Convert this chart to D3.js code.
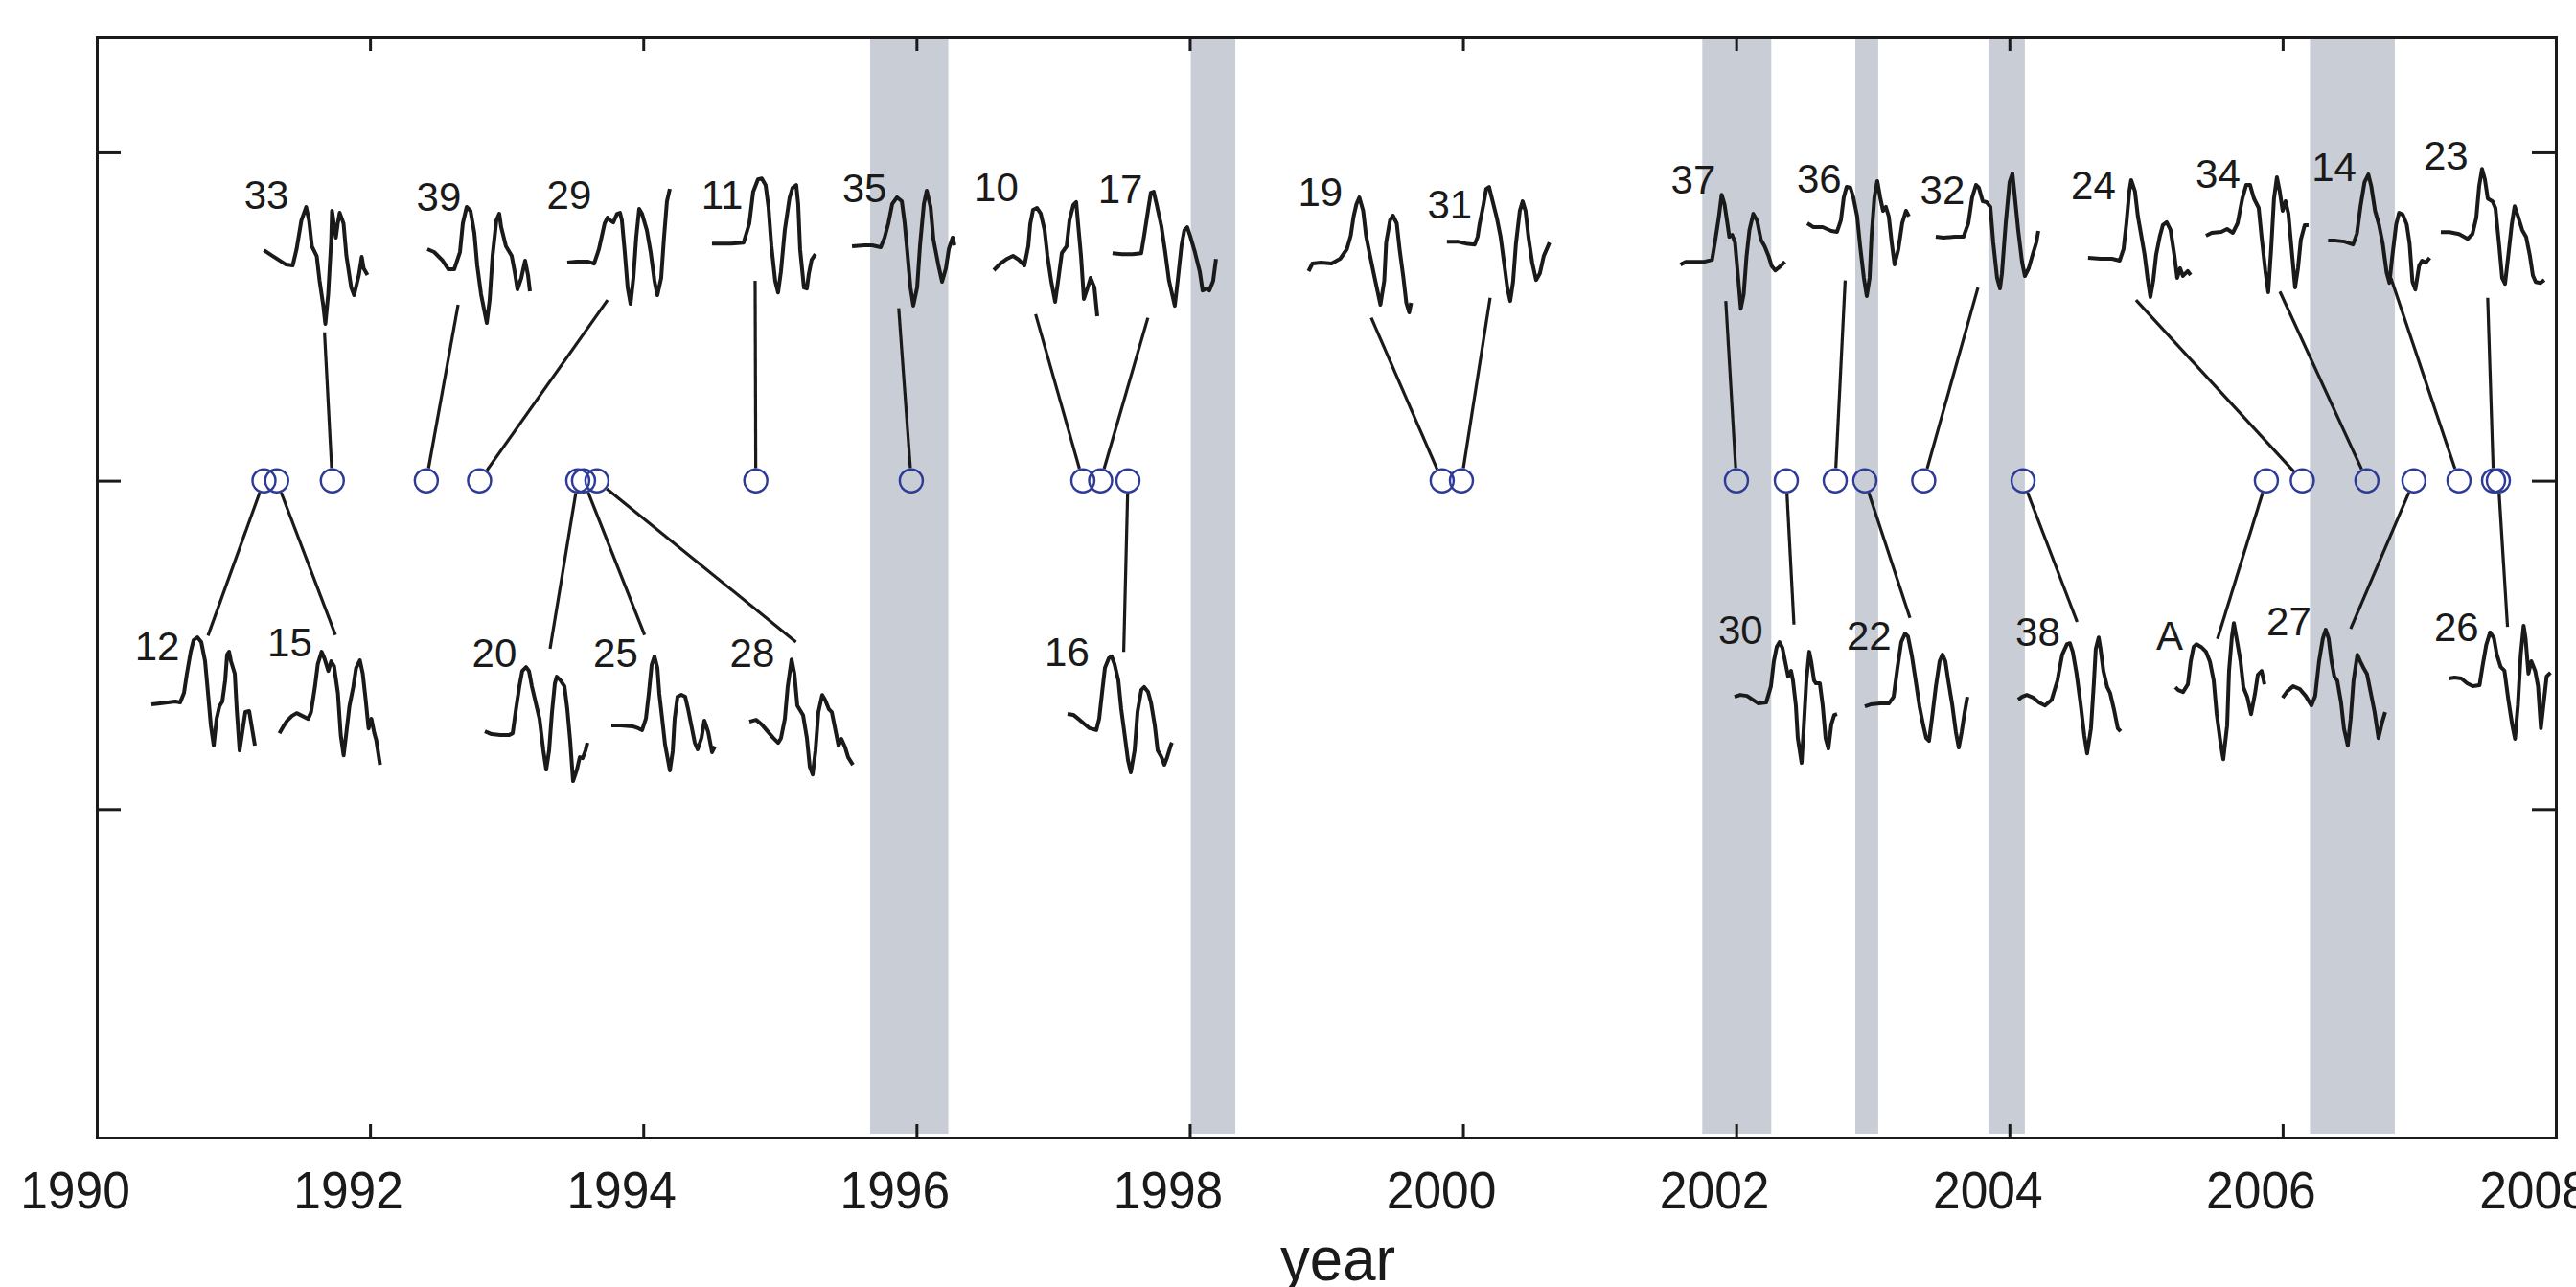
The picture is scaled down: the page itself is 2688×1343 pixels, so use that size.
<!DOCTYPE html>
<html>
<head>
<meta charset="utf-8">
<script src="https://cdn.jsdelivr.net/npm/d3@7"></script>
<style>
  body { margin: 0; background: #fff; }
  svg { display: block; }
  text { font-family: "Liberation Sans", Arial, Helvetica, sans-serif; fill: #1a1a1a; }
</style>
</head>
<body>
<script>

// tick values
var yearTicks = [1990, 1992, 1994, 1996, 1998, 2000, 2002, 2004, 2006, 2008];
var levelTicks = [-1, 0, 1];

// shaded periods (years)
var bandStart = [1995.661, 1998.008, 2001.752, 2002.872, 2003.847, 2006.200];
var bandEnd   = [1996.233, 1998.334, 2002.257, 2003.040, 2004.113, 2006.821];

// events, in time order
var eventId   = ["12","15","33","39","29","20","25","28","11","35","10","17","16","19",
                 "31","37","30","36","22","32","38","A","24","34","27","14","23","26"];
var eventYear = [1991.224,1991.317,1991.724,1992.412,1992.802,1993.521,1993.563,1993.661,
                 1994.824,1995.962,1997.218,1997.348,1997.548,1999.848,1999.989,2002.002,
                 2002.367,2002.725,2002.942,2003.373,2004.100,2005.881,2006.144,2006.617,
                 2006.961,2007.291,2007.544,2007.579];

// where each waveform starts (year, level)
var traceYear  = [1990.400,1991.337,1991.224,1992.420,1993.444,1992.841,1993.767,1994.777,
                  1994.503,1995.528,1996.566,1997.435,1997.106,1998.870,1999.883,2001.592,
                  2001.988,2002.521,2002.942,2003.461,2004.064,2005.215,2004.576,2005.439,
                  2006.000,2006.333,2007.158,2007.217];
var traceLevel = [-0.681,-0.769,0.702,0.705,0.664,-0.763,-0.745,-0.734,0.722,0.714,0.641,
                  0.693,-0.710,0.638,0.728,0.658,-0.658,0.784,-0.687,0.743,-0.667,-0.629,
                  0.679,0.746,-0.661,0.731,0.757,-0.602];

// label anchor (year, level)
var labelYear  = [1990.442,1991.413,1991.242,1992.504,1993.458,1992.911,1993.798,1994.798,
                  1994.577,1995.619,1996.583,1997.492,1997.102,1998.957,1999.904,2001.686,
                  2002.033,2002.608,2002.973,2003.510,2004.208,2005.173,2004.615,2005.527,
                  2006.046,2006.376,2007.195,2007.273];
var labelLevel = [-0.547,-0.535,0.827,0.821,0.827,-0.567,-0.567,-0.567,0.827,0.848,0.851,
                  0.845,-0.564,0.836,0.798,0.874,-0.497,0.877,-0.515,0.842,-0.503,-0.515,
                  0.857,0.892,-0.471,0.912,0.947,-0.488];

// far end of each leader line (year, level)
var leaderYear  = [1990.814,1991.747,1991.667,1992.645,1993.739,1993.318,1994.010,1995.118,
                   1994.819,1995.870,1996.872,1997.694,1997.517,1999.329,2000.199,2001.924,
                   2002.423,2002.798,2003.272,2003.770,2004.496,2005.523,2004.927,2005.980,
                   2006.498,2006.793,2007.501,2007.646];
var leaderLevel = [-0.472,-0.470,0.452,0.536,0.550,-0.512,-0.470,-0.491,0.609,0.525,0.507,
                   0.496,-0.521,0.496,0.557,0.547,-0.438,0.610,-0.418,0.588,-0.430,-0.482,
                   0.550,0.576,-0.451,0.617,0.557,-0.445];

// waveforms: [sample, counts]
var wf12 = [[0,0],[9,1],[17,2],[25,3],[30,2],[34,12],[37,32],[41,55],[44,67],[48,70],[52,65],[56,45],[59,12],[62,-22],[65,-43],[68,-15],[71,-2],[74,3],[77,25],[79,52],[81,55],[83,45],[87,32],[89,-5],[92,-48],[95,-28],[98,-8],[102,-7],[105,-25],[108,-43]];
var wf15 = [[0,0],[4,7],[8,13],[13,18],[18,21],[24,18],[30,15],[33,22],[37,48],[40,72],[44,85],[47,78],[51,65],[54,75],[57,70],[61,42],[64,-2],[67,-23],[70,2],[73,28],[77,48],[80,68],[84,76],[87,62],[90,35],[93,5],[96,15],[99,0],[101,-7],[105,-33]];
var wf33 = [[0,0],[9,-6],[23,-15],[30,-16],[34,1],[39,31],[44,45],[47,31],[50,4],[55,-6],[58,-32],[62,-59],[64,-77],[67,-46],[70,8],[71,41],[75,13],[77,28],[79,39],[83,28],[86,-6],[91,-39],[94,-47],[99,-26],[102,-7],[104,-19],[108,-26]];
var wf39 = [[0,0],[7,-3],[16,-12],[22,-21],[28,-21],[34,-3],[37,27],[41,44],[45,40],[49,17],[52,-17],[56,-47],[62,-77],[65,-53],[68,-7],[72,30],[75,37],[77,23],[82,3],[88,-7],[91,-23],[94,-42],[98,-30],[102,-12],[105,-27],[107,-44]];
var wf29 = [[0,0],[10,1],[22,1],[28,-1],[33,14],[39,41],[42,47],[45,44],[48,42],[52,51],[55,52],[57,44],[60,11],[63,-26],[66,-43],[69,-16],[72,27],[75,56],[78,51],[83,34],[87,11],[91,-19],[94,-34],[98,-16],[101,27],[104,64],[107,77]];
var wf20 = [[0,0],[7,-3],[16,-4],[25,-4],[29,-2],[32,20],[36,47],[39,63],[43,67],[46,63],[49,47],[53,30],[57,13],[61,-20],[64,-40],[67,-20],[70,20],[73,50],[75,57],[79,53],[83,47],[86,23],[89,-10],[92,-52],[96,-40],[99,-27],[102,-28],[105,-20],[107,-12]];
var wf25 = [[0,0],[10,0],[22,-1],[28,-3],[32,-5],[36,7],[39,33],[42,63],[45,72],[48,60],[50,33],[53,7],[56,-20],[61,-47],[64,-27],[66,7],[69,30],[73,32],[77,30],[80,17],[84,-3],[87,-18],[90,-25],[94,-13],[97,5],[101,-7],[105,-28],[108,-22]];
var wf28 = [[0,0],[7,2],[13,-3],[19,-10],[25,-17],[30,-22],[33,-17],[37,3],[40,37],[44,65],[47,50],[50,17],[56,7],[60,-17],[63,-47],[66,-55],[69,-30],[72,10],[76,28],[79,23],[83,13],[86,10],[90,-10],[93,-25],[96,-18],[100,-27],[103,-37],[108,-45]];
var wf11 = [[0,0],[20,0],[33,1],[39,21],[43,54],[48,67],[52,68],[56,61],[59,38],[62,-2],[66,-39],[69,-51],[72,-29],[76,14],[81,48],[84,58],[88,61],[90,41],[92,-6],[96,-46],[99,-47],[101,-32],[104,-17],[108,-11]];
var wf35 = [[0,0],[13,1],[21,1],[30,-1],[34,9],[38,24],[42,44],[47,51],[52,47],[55,24],[58,-9],[61,-43],[64,-62],[68,-43],[71,1],[75,44],[78,58],[82,41],[85,7],[90,-19],[94,-37],[98,-23],[101,-3],[105,9],[107,1]];
var wf10 = [[0,0],[7,7],[14,12],[20,15],[26,11],[32,5],[36,25],[38,48],[41,63],[45,65],[49,59],[53,42],[56,15],[60,-12],[64,-33],[67,-12],[71,18],[76,25],[79,52],[83,68],[86,71],[88,48],[91,15],[94,-30],[98,-18],[101,-8],[105,-18],[108,-48]];
var wf17 = [[0,0],[10,-1],[21,-1],[30,0],[33,18],[37,44],[40,63],[43,64],[46,51],[51,28],[55,1],[59,-29],[65,-55],[68,-29],[72,8],[75,24],[78,27],[81,18],[86,1],[91,-19],[94,-39],[98,-37],[101,-39],[105,-29],[108,-6]];
var wf16 = [[0,0],[6,-1],[11,-5],[17,-10],[23,-15],[30,-17],[33,-5],[36,22],[39,48],[43,58],[46,60],[49,52],[53,35],[56,5],[60,-25],[63,-48],[66,-61],[70,-38],[73,2],[77,25],[80,28],[84,23],[87,12],[91,-12],[94,-38],[98,-45],[101,-53],[104,-45],[108,-32],[109,-30]];
var wf19 = [[0,0],[4,8],[13,9],[24,8],[33,13],[40,23],[44,37],[47,57],[50,70],[53,77],[57,63],[60,37],[64,17],[69,-7],[75,-35],[79,-10],[81,30],[85,53],[88,58],[92,50],[95,23],[99,-7],[102,-33],[105,-43],[107,-33]];
var wf31 = [[0,0],[11,0],[20,-2],[29,-3],[32,5],[34,18],[38,38],[41,55],[44,57],[47,45],[52,25],[56,5],[60,-25],[63,-48],[66,-62],[69,-42],[72,-2],[76,32],[79,42],[82,32],[85,5],[89,-22],[93,-40],[97,-33],[101,-15],[107,-1]];
var wf37 = [[0,0],[6,3],[16,3],[25,3],[33,5],[36,23],[40,49],[43,73],[46,63],[49,43],[51,29],[54,31],[57,23],[60,-11],[63,-46],[66,-31],[69,9],[72,36],[76,53],[80,46],[84,26],[88,19],[92,9],[95,-1],[99,-6],[104,-2],[109,3]];
var wf30 = [[0,0],[6,2],[13,1],[19,-3],[25,-7],[33,-6],[38,11],[41,37],[44,52],[47,57],[50,51],[54,31],[56,21],[59,27],[61,17],[64,-9],[66,-43],[70,-69],[72,-36],[75,17],[78,47],[80,37],[83,17],[85,14],[89,14],[92,-9],[95,-43],[98,-54],[101,-29],[104,-19],[107,-18]];
var wf36 = [[0,0],[6,-4],[16,-4],[25,-8],[31,-9],[35,3],[38,27],[41,38],[45,37],[48,27],[52,7],[55,-23],[59,-57],[62,-76],[65,-57],[67,-13],[70,27],[73,44],[76,27],[79,13],[82,17],[85,7],[88,-20],[91,-43],[95,-27],[99,0],[103,13],[106,7]];
var wf22 = [[0,0],[6,2],[16,3],[25,3],[30,10],[34,40],[38,67],[42,76],[45,73],[49,53],[53,27],[57,0],[61,-20],[64,-33],[67,-36],[70,-13],[74,20],[78,47],[81,54],[84,47],[87,27],[91,3],[95,-27],[98,-43],[101,-27],[104,-7],[107,10]];
var wf32 = [[0,0],[8,-1],[20,0],[29,0],[34,14],[38,41],[42,54],[45,51],[49,37],[53,36],[57,31],[60,-6],[64,-43],[67,-54],[69,-39],[73,14],[77,57],[80,66],[82,47],[86,7],[90,-26],[93,-41],[97,-33],[101,-19],[105,-6],[107,6]];
var wf38 = [[0,0],[4,3],[9,5],[16,2],[22,-3],[28,-6],[35,0],[41,20],[46,47],[51,58],[54,59],[57,50],[61,27],[65,-3],[69,-37],[72,-56],[76,-30],[79,17],[81,53],[84,65],[86,53],[89,30],[93,13],[96,7],[100,-10],[104,-30],[107,-33]];
var wfA  = [[0,0],[3,-3],[8,-5],[13,3],[16,27],[19,42],[22,45],[27,42],[32,37],[36,27],[40,7],[43,-27],[47,-57],[50,-75],[54,-40],[56,17],[59,53],[61,67],[64,50],[68,27],[71,0],[75,-10],[79,-28],[83,-7],[86,13],[90,17],[93,3]];
var wf24 = [[0,0],[13,-1],[25,-1],[33,-3],[37,9],[40,36],[43,69],[45,81],[49,69],[52,43],[55,26],[59,3],[62,-21],[65,-41],[68,-24],[71,3],[75,23],[78,34],[82,37],[86,29],[90,3],[93,-21],[96,-11],[99,-19],[104,-14],[107,-18]];
var wf34 = [[0,0],[6,3],[16,4],[22,7],[28,3],[33,13],[38,39],[42,53],[46,53],[50,39],[55,29],[58,-1],[62,-37],[65,-59],[68,-14],[71,39],[74,61],[77,46],[80,26],[83,36],[86,23],[90,-21],[93,-54],[96,-34],[99,-4],[103,11],[107,11]];
var wf27 = [[0,0],[5,7],[11,12],[18,9],[24,2],[30,-8],[34,2],[38,38],[42,62],[45,71],[48,62],[51,38],[54,22],[57,18],[61,-5],[64,-32],[68,-50],[71,-22],[74,18],[78,45],[81,38],[84,32],[88,25],[92,5],[96,-15],[100,-42],[104,-25],[107,-15]];
var wf14 = [[0,0],[8,0],[17,-1],[26,-4],[30,7],[34,37],[38,61],[42,69],[45,57],[49,31],[53,17],[57,-3],[61,-33],[64,-44],[67,-16],[71,17],[74,29],[78,27],[82,17],[85,-3],[88,-43],[91,-51],[95,-26],[98,-21],[102,-23],[106,-18]];
var wf23 = [[0,0],[9,0],[19,-2],[28,-7],[33,-2],[37,15],[40,48],[43,66],[46,55],[49,35],[54,32],[57,25],[61,-15],[64,-48],[67,-54],[70,-28],[74,8],[77,27],[81,15],[85,2],[89,-5],[93,-25],[96,-45],[99,-52],[104,-53],[108,-50]];
var wf26 = [[0,0],[6,1],[13,0],[19,-5],[25,-8],[32,-7],[35,12],[39,35],[43,48],[47,42],[50,25],[54,12],[58,8],[62,-22],[66,-48],[69,-63],[72,-28],[75,25],[78,55],[80,42],[83,5],[86,18],[90,8],[93,-8],[96,-52],[99,-25],[102,2],[106,6]];

var waveforms = [wf12, wf15, wf33, wf39, wf29, wf20, wf25, wf28, wf11, wf35, wf10, wf17, wf16, wf19,
                 wf31, wf37, wf30, wf36, wf22, wf32, wf38, wfA, wf24, wf34, wf27, wf14, wf23, wf26];

var sampleYears = 0.007015;   // years per waveform sample
var countLevel  = 0.002918;   // level units per count


var svgWidth = 2688;
var svgHeight = 1343;

var margin = {top: 39, right: 21, bottom: 156, left: 101},
    width = svgWidth - margin.left - margin.right,
    height = svgHeight - margin.top - margin.bottom;

var svg = d3.select("body").append("svg").attr("width", svgWidth).attr("height", svgHeight);

var chartGroup = svg.append("g").attr("transform", `translate(${margin.left},${margin.top})`);

var xScale = d3.scaleLinear().domain([1990, 2008]).range([0, width]);
var yScale = d3.scaleLinear().domain([-2, 1.35]).range([height, 0]);

var ink = "#1a1a1a";
var circleR = 12;

// shaded bands
chartGroup.selectAll(".band")
    .data(bandStart)
  .enter().append("rect")
    .attr("class", "band")
    .attr("x", function(d) { return xScale(d); })
    .attr("width", function(d, i) { return xScale(bandEnd[i]) - xScale(d); })
    .attr("y", 2)
    .attr("height", height - 6)
    .attr("fill", "#c9cdd5");

var idx = d3.range(eventId.length);

// leader lines, trimmed at the circle edge
chartGroup.selectAll(".leader")
    .data(idx)
  .enter().append("line")
    .attr("class", "leader")
    .each(function(i) {
      var cx = xScale(eventYear[i]), cy = yScale(0);
      var ex = xScale(leaderYear[i]), ey = yScale(leaderLevel[i]);
      var len = Math.hypot(ex - cx, ey - cy);
      var r = circleR + 1.2;
      d3.select(this)
        .attr("x1", cx + (ex - cx) / len * r)
        .attr("y1", cy + (ey - cy) / len * r)
        .attr("x2", ex)
        .attr("y2", ey);
    })
    .attr("stroke", ink)
    .attr("stroke-width", 3.2);

// waveforms
chartGroup.selectAll(".trace")
    .data(idx)
  .enter().append("path")
    .attr("class", "trace")
    .attr("d", function(i) {
      var line = d3.line()
        .x(function(p) { return xScale(traceYear[i] + p[0] * sampleYears); })
        .y(function(p) { return yScale(traceLevel[i] + p[1] * countLevel); });
      return line(waveforms[i]);
    })
    .attr("fill", "none")
    .attr("stroke", ink)
    .attr("stroke-width", 4)
    .attr("stroke-linejoin", "round");

// labels
chartGroup.selectAll(".evlabel")
    .data(idx)
  .enter().append("text")
    .attr("class", "evlabel")
    .attr("x", function(i) { return xScale(labelYear[i]); })
    .attr("y", function(i) { return yScale(labelLevel[i]); })
    .attr("text-anchor", "middle")
    .attr("font-size", "42px")
    .text(function(i) { return eventId[i]; });

// event circles
chartGroup.selectAll(".event")
    .data(idx)
  .enter().append("circle")
    .attr("class", "event")
    .attr("cx", function(i) { return xScale(eventYear[i]); })
    .attr("cy", yScale(0))
    .attr("r", circleR)
    .attr("fill", "none")
    .attr("stroke", "#2d3a96")
    .attr("stroke-width", 2.5);

// axes (ticks point inward)
var xAxis = d3.axisBottom(xScale).tickValues(yearTicks).tickFormat(d3.format("d"))
    .tickSize(-14).tickSizeOuter(0).tickPadding(34);
var xAxisTop = d3.axisTop(xScale).tickValues(yearTicks).tickFormat("")
    .tickSize(-14).tickSizeOuter(0);
var yAxis = d3.axisLeft(yScale).tickValues(levelTicks).tickFormat("")
    .tickSize(-25).tickSizeOuter(0);
var yAxisRight = d3.axisRight(yScale).tickValues(levelTicks).tickFormat("")
    .tickSize(-25).tickSizeOuter(0);

var gx = chartGroup.append("g")
    .attr("class", "x axis")
    .attr("transform", "translate(0," + height + ")")
    .call(xAxis);
chartGroup.append("g").attr("class", "x axis top").call(xAxisTop);
chartGroup.append("g").attr("class", "y axis").call(yAxis);
chartGroup.append("g").attr("class", "y axis right")
    .attr("transform", "translate(" + width + ",0)")
    .call(yAxisRight);

chartGroup.selectAll(".axis path, .axis line")
    .attr("stroke", ink)
    .attr("stroke-width", 3);
chartGroup.selectAll(".axis path").attr("stroke-linecap", "square");

gx.selectAll("text")
    .attr("font-family", null)
    .attr("font-size", "56px")
    .attr("fill", ink)
    .attr("transform", "translate(-23,0) scale(0.92,1)");

chartGroup.append("text")
    .attr("text-anchor", "middle")
    .attr("font-size", "65px")
    .attr("transform", "translate(" + (width / 2 + 12) + "," + (height + 149) + ") scale(0.95,1)")
    .text("year");

</script>
</body>
</html>
